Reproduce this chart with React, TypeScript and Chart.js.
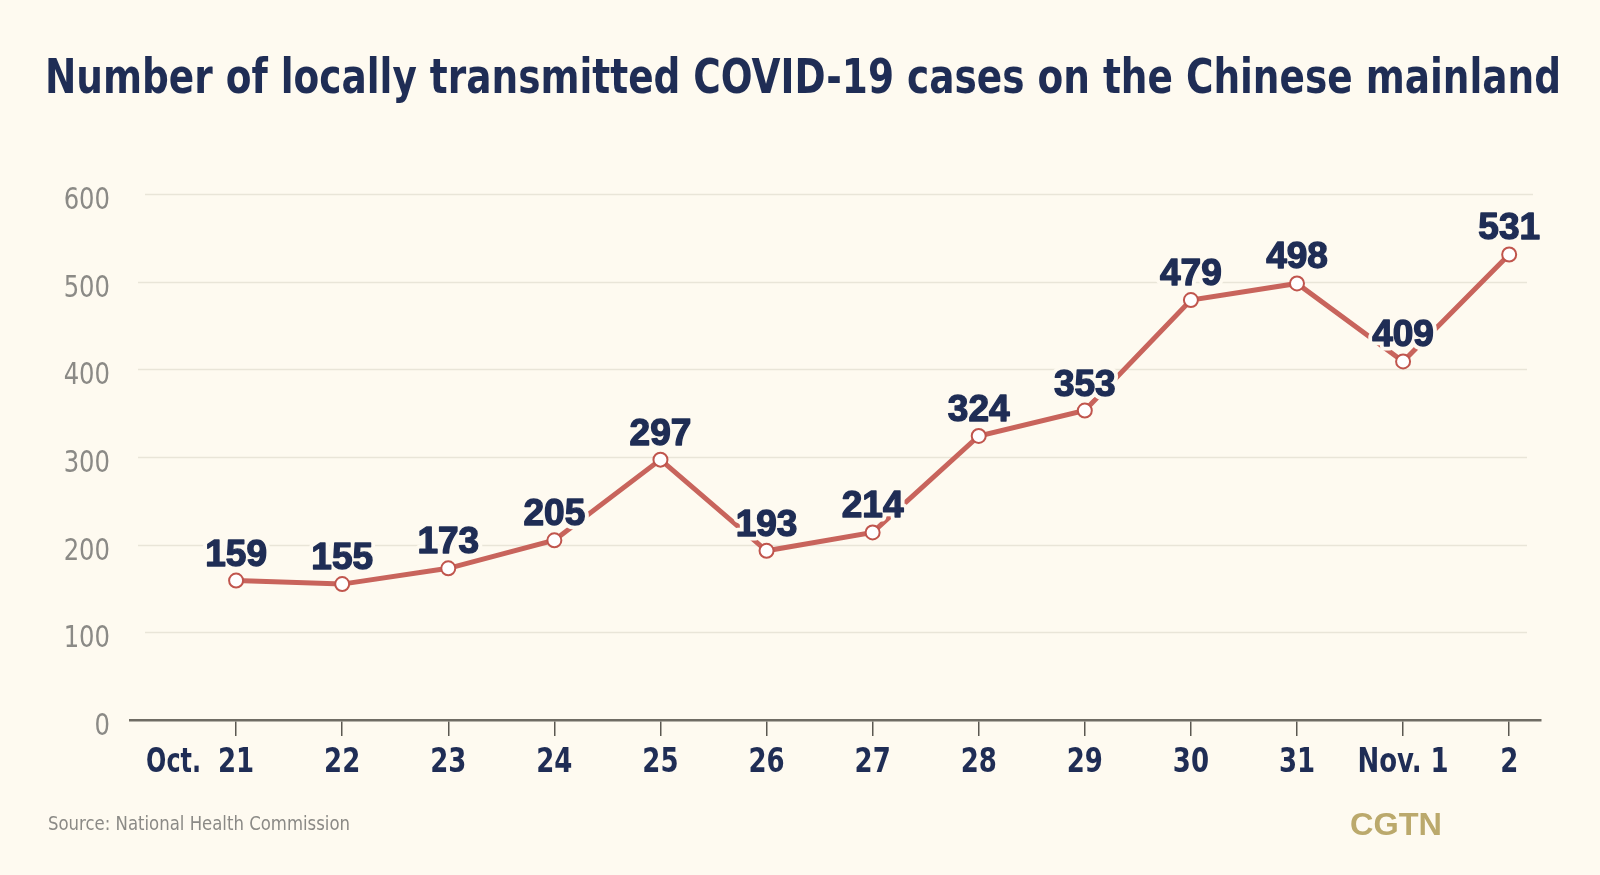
import React, { useEffect, useRef } from "react";
import { Chart, registerables } from "chart.js";

Chart.register(...registerables);

// ---- data ----
const TITLE = "Number of locally transmitted COVID-19 cases on the Chinese mainland";
const SOURCE = "Source: National Health Commission";
const BRAND = "CGTN";
const xPrefix = ["Oct.", "", "", "", "", "", "", "", "", "", "", "", ""];
const xDays = ["21", "22", "23", "24", "25", "26", "27", "28", "29", "30", "31", "Nov. 1", "2"];
const cases = [159, 155, 173, 205, 297, 193, 214, 324, 353, 479, 498, 409, 531];
const yTicks = [0, 100, 200, 300, 400, 500, 600];

// ---- styles ----
const BG = "#fefaf0";
const NAVY = "#1f2d55";
const LINE = "#c8645c";
const GRAY = "#8b8a86";
const GOLD = "#bba96c";
const NARROW = '"Liberation Sans Narrow", "DejaVu Sans Condensed", "Arial Narrow", sans-serif';
const WIDE = '"Liberation Sans", Arial, sans-serif';

function drawFitted(ctx: CanvasRenderingContext2D, text: string, cx: number, baseline: number, width: number) {
  const w = ctx.measureText(text).width;
  const s = width / w;
  ctx.save();
  ctx.translate(cx, baseline);
  ctx.scale(s, 1);
  ctx.textAlign = "center";
  ctx.textBaseline = "alphabetic";
  ctx.fillText(text, 0, 0);
  ctx.restore();
}

function drawScaled(
  ctx: CanvasRenderingContext2D,
  text: string,
  x: number,
  baseline: number,
  sx: number,
  align: CanvasTextAlign
) {
  ctx.save();
  ctx.translate(x, baseline);
  ctx.scale(sx, 1);
  ctx.textAlign = align;
  ctx.textBaseline = "alphabetic";
  ctx.fillText(text, 0, 0);
  ctx.restore();
}

const decorPlugin = {
  id: "decor",
  beforeDraw(chart: any) {
    const { ctx, width, height } = chart;
    ctx.save();
    ctx.fillStyle = BG;
    ctx.fillRect(0, 0, width, height);
    ctx.restore();
  },
  beforeDatasetsDraw(chart: any) {
    const { ctx } = chart;
    const y = chart.scales.y;
    ctx.save();
    ctx.strokeStyle = "#e9e5d8";
    ctx.lineWidth = 1.5;
    yTicks.forEach((v) => {
      if (v === 0) return;
      const py = Math.round(y.getPixelForValue(v)) + 0.5;
      ctx.beginPath();
      ctx.moveTo(v === 600 || v === 100 ? 145 : 138, py);
      ctx.lineTo(v === 600 ? 1533 : 1527, py);
      ctx.stroke();
    });
    // y labels
    ctx.fillStyle = GRAY;
    ctx.font = `30px ${NARROW}`;
    yTicks.forEach((v) => {
      const py = y.getPixelForValue(v);
      drawScaled(ctx, String(v), 110, py + 15, 0.9, "right");
    });
    ctx.restore();
  },
  afterDatasetsDraw(chart: any) {
    const { ctx } = chart;
    const meta = chart.getDatasetMeta(0);
    ctx.save();
    ctx.font = `bold 37px ${WIDE}`;
    ctx.textAlign = "center";
    ctx.textBaseline = "alphabetic";
    ctx.lineJoin = "round";
    meta.data.forEach((pt: any, i: number) => {
      const txt = String(cases[i]);
      ctx.strokeStyle = BG;
      ctx.lineWidth = 9;
      ctx.strokeText(txt, pt.x, pt.y - 15);
      ctx.fillStyle = NAVY;
      ctx.fillText(txt, pt.x, pt.y - 15);
      ctx.strokeStyle = NAVY;
      ctx.lineWidth = 1.4;
      ctx.strokeText(txt, pt.x, pt.y - 15);
    });
    ctx.restore();
  },
  afterDraw(chart: any) {
    const { ctx } = chart;
    const x = chart.scales.x;
    ctx.save();
    // x labels
    ctx.fillStyle = NAVY;
    ctx.font = `bold 34px ${NARROW}`;
    const sx = 0.85;
    xDays.forEach((d, i) => {
      const px = x.getPixelForValue(i);
      drawScaled(ctx, d, px, 772, sx, "center");
      if (xPrefix[i]) {
        const w = ctx.measureText(d).width * sx;
        drawScaled(ctx, xPrefix[i], px - w / 2 - 17, 772, 0.78, "right");
      }
    });
    // title
    ctx.fillStyle = NAVY;
    ctx.font = `bold 48px ${NARROW}`;
    drawFitted(ctx, TITLE, 803, 93, 1516);
    // source
    ctx.fillStyle = GRAY;
    ctx.font = `20px ${NARROW}`;
    drawFitted(ctx, SOURCE, 48 + 151, 830, 302);
    // brand
    ctx.fillStyle = GOLD;
    ctx.font = `bold 32px ${WIDE}`;
    drawFitted(ctx, BRAND, 1396, 835, 92);
    ctx.restore();
  },
};

export default function App() {
  const ref = useRef<HTMLCanvasElement>(null);
  useEffect(() => {
    document.body.style.margin = "0";
    const canvas = ref.current!;
    const chart = new Chart(canvas, {
      type: "line",
      data: {
        datasets: [
          {
            data: cases.map((v, i) => ({ x: i, y: v })),
            borderColor: LINE,
            borderWidth: 5,
            pointRadius: 7,
            pointBorderWidth: 2,
            pointBackgroundColor: "#ffffff",
            pointBorderColor: "#c0554d",
            tension: 0,
          },
        ],
      },
      options: {
        animation: false,
        responsive: false,
        maintainAspectRatio: false,
        events: [],
        layout: { padding: { top: 194, right: 59, left: 0, bottom: 0 } },
        plugins: { legend: { display: false }, tooltip: { enabled: false }, title: { display: false } },
        scales: {
          x: {
            type: "linear",
            min: -1,
            max: 12.3,
            afterBuildTicks: (scale: any) => {
              scale.ticks = xDays.map((_, i) => ({ value: i }));
            },
            afterFit: (scale: any) => {
              scale.height = 155;
            },
            grid: { drawOnChartArea: false, drawTicks: true, tickLength: 16, color: "#5b5851", lineWidth: 1.5 },
            border: { display: true, color: "#6f6c64", width: 2.5 },
            ticks: { callback: () => "", color: "rgba(0,0,0,0)" },
          },
          y: {
            min: 0,
            max: 600,
            afterBuildTicks: (scale: any) => {
              scale.ticks = yTicks.map((v) => ({ value: v }));
            },
            afterFit: (scale: any) => {
              scale.width = 130;
            },
            grid: { display: false, drawTicks: false },
            border: { display: false },
            ticks: { callback: () => "", color: "rgba(0,0,0,0)" },
          },
        },
      },
      plugins: [decorPlugin],
    });
    return () => chart.destroy();
  }, []);
  return (
    <div style={{ width: 1600, height: 875, background: BG }}>
      <canvas ref={ref} width={1600} height={875} style={{ display: "block" }} />
    </div>
  );
}
